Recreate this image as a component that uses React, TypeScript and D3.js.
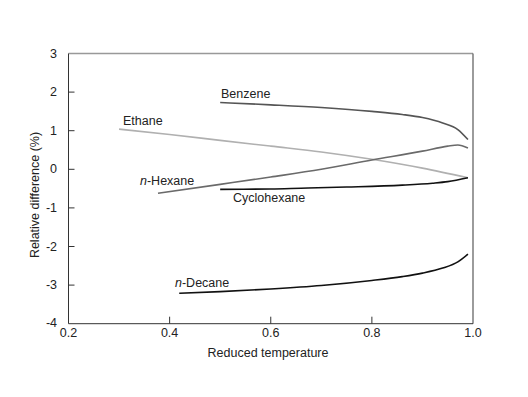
import React from "react";
import * as d3 from "d3";

const xTicks = [0.2, 0.4, 0.6, 0.8, 1.0];
const yTicks = [3, 2, 1, 0, -1, -2, -3, -4];

// reduced temperature / relative difference (%)
const benzeneT = [0.5, 0.6, 0.7, 0.8, 0.86, 0.9, 0.94, 0.97, 0.99];
const benzeneD = [1.73, 1.67, 1.6, 1.5, 1.42, 1.34, 1.2, 1.03, 0.77];

const ethaneT = [0.3, 0.4, 0.5, 0.6, 0.7, 0.8, 0.9, 0.99];
const ethaneD = [1.04, 0.9, 0.75, 0.6, 0.45, 0.26, 0.03, -0.22];

const hexaneT = [0.377, 0.5, 0.6, 0.7, 0.8, 0.9, 0.95, 0.97, 0.99];
const hexaneD = [-0.62, -0.39, -0.2, 0.0, 0.24, 0.47, 0.6, 0.63, 0.55];

const cyclohexaneT = [0.5, 0.6, 0.66, 0.75, 0.86, 0.92, 0.95, 0.99];
const cyclohexaneD = [-0.52, -0.51, -0.49, -0.46, -0.41, -0.36, -0.32, -0.22];

const decaneT = [0.419, 0.5, 0.6, 0.7, 0.8, 0.86, 0.9, 0.94, 0.97, 0.99];
const decaneD = [-3.21, -3.17, -3.1, -3.01, -2.88, -2.78, -2.69, -2.56, -2.4, -2.2];

const series = [
  { name: "Benzene", italic: "", t: benzeneT, d: benzeneD, color: "#555", lx: 221, ly: 98 },
  { name: "Ethane", italic: "", t: ethaneT, d: ethaneD, color: "#b0b0b0", lx: 123, ly: 125 },
  { name: "-Hexane", italic: "n", t: hexaneT, d: hexaneD, color: "#6a6a6a", lx: 140, ly: 185 },
  { name: "Cyclohexane", italic: "", t: cyclohexaneT, d: cyclohexaneD, color: "#111", lx: 233, ly: 202 },
  { name: "-Decane", italic: "n", t: decaneT, d: decaneD, color: "#111", lx: 175, ly: 287 },
];

const font = "Arial, 'Liberation Sans', Helvetica, sans-serif";

export default function App() {
  const x = d3.scaleLinear().domain([0.2, 1.0]).range([68.5, 473]);
  const y = d3.scaleLinear().domain([-4, 3]).range([323.7, 53.5]);

  const line = d3
    .line<[number, number]>()
    .x((p) => x(p[0]))
    .y((p) => y(p[1]))
    .curve(d3.curveMonotoneX);

  const [x0, x1] = x.range();
  const [yb, yt] = y.range();

  return (
    <svg
      width={528}
      height={397}
      style={{ position: "absolute", left: 0, top: 0, background: "#fff" }}
      fontFamily={font}
    >
      {/* frame */}
      <line x1={x0} x2={x1} y1={yt} y2={yt} stroke="#999" strokeWidth={1.5} />
      <line x1={x1} x2={x1} y1={yt} y2={yb} stroke="#666" strokeWidth={1.3} />
      <line x1={x0} x2={x0} y1={yt} y2={yb} stroke="#333" strokeWidth={1} />
      <line x1={x0} x2={x1} y1={yb} y2={yb} stroke="#333" strokeWidth={1} />

      {/* y ticks */}
      {yTicks.map((v) => (
        <g key={"y" + v}>
          {v > -4 && v < 3 && (
            <line x1={x0} x2={x0 + 6} y1={y(v)} y2={y(v)} stroke="#333" />
          )}
          <text
            x={57}
            y={v === -4 ? y(v) - 1 : y(v)}
            textAnchor="end"
            dominantBaseline="central"
            fontSize={12.5}
            fill="#222"
          >
            {v}
          </text>
        </g>
      ))}

      {/* x ticks */}
      {xTicks.map((v) => (
        <g key={"x" + v}>
          {v > 0.2 && v < 1.0 && (
            <line x1={x(v)} x2={x(v)} y1={yb} y2={yb - 7} stroke="#333" />
          )}
          <text x={x(v)} y={337} textAnchor="middle" fontSize={12.5} fill="#222">
            {v.toFixed(1)}
          </text>
        </g>
      ))}

      {/* axis titles */}
      <text x={268} y={357} textAnchor="middle" fontSize={12.5} fill="#222">
        Reduced temperature
      </text>
      <text
        transform="translate(39,195) rotate(-90)"
        textAnchor="middle"
        fontSize={12.5}
        fill="#222"
      >
        Relative difference (%)
      </text>

      {/* curves */}
      {series.map((s) => (
        <path
          key={s.name}
          d={line(s.t.map((t, i) => [t, s.d[i]] as [number, number])) || ""}
          fill="none"
          stroke={s.color}
          strokeWidth={1.6}
        />
      ))}

      {/* labels */}
      {series.map((s) => (
        <text key={"l" + s.name} x={s.lx} y={s.ly} fontSize={12.5} fill="#222">
          {s.italic && <tspan fontStyle="italic">{s.italic}</tspan>}
          {s.name}
        </text>
      ))}
    </svg>
  );
}
